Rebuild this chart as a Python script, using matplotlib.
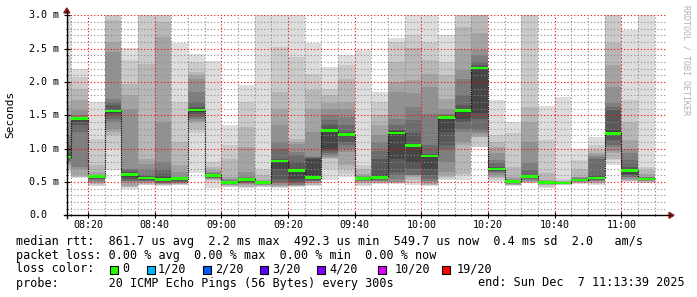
import matplotlib
matplotlib.use("Agg")
import matplotlib.pyplot as plt
from matplotlib.lines import Line2D
from matplotlib.patches import Rectangle, Polygon
import matplotlib.transforms as mtransforms
import numpy as np

# ---------------- data ----------------
window_start = "08:13:39"
window_end = "11:13:39"

bar_starts = ["08:10", "08:15", "08:20", "08:25", "08:30", "08:35", "08:40", "08:45",
              "08:50", "08:55", "09:00", "09:05", "09:10", "09:15", "09:20", "09:25",
              "09:30", "09:35", "09:40", "09:45", "09:50", "09:55", "10:00", "10:05",
              "10:10", "10:15", "10:20", "10:25", "10:30", "10:35", "10:40", "10:45",
              "10:50", "10:55", "11:00", "11:05"]

# median rtt per 5-minute step (ms)
median_rtt = [0.875, 1.455, 0.58, 1.565, 0.61, 0.56, 0.54, 0.55, 1.58, 0.60, 0.495, 0.54,
              0.49, 0.815, 0.67, 0.565, 1.275, 1.21, 0.55, 0.57, 1.235, 1.045, 0.89, 1.47,
              1.57, 2.21, 0.695, 0.505, 0.585, 0.495, 0.485, 0.53, 0.56, 1.23, 0.675, 0.545]

# the 20 sorted ping times (ms) of each step
pings = [
    [0.62, 0.66, 0.70, 0.74, 0.77, 0.80, 0.82, 0.84, 0.855, 0.865, 0.885, 0.90, 0.95, 1.05, 1.20, 1.40, 1.65, 2.00, 2.40, 3.05],
    [0.56, 0.57, 0.58, 0.60, 0.70, 0.72, 1.25, 1.35, 1.40, 1.43, 1.46, 1.465, 1.47, 1.48, 1.50, 1.575, 1.725, 1.89, 2.075, 2.19],
    [0.44, 0.45, 0.47, 0.49, 0.50, 0.52, 0.54, 0.55, 0.56, 0.575, 0.581, 0.582, 0.583, 0.585, 0.59, 0.60, 0.65, 0.75, 1.15, 1.70],
    [0.675, 1.00, 1.20, 1.25, 1.30, 1.40, 1.45, 1.50, 1.53, 1.55, 1.57, 1.58, 1.65, 1.70, 1.75, 2.45, 2.60, 2.925, 3.0, 3.05],
    [0.40, 0.425, 0.43, 0.44, 0.50, 0.51, 0.52, 0.55, 0.57, 0.605, 0.615, 0.63, 0.65, 0.69, 0.70, 1.60, 1.80, 1.975, 2.325, 2.51],
    [0.45, 0.46, 0.47, 0.48, 0.50, 0.51, 0.52, 0.53, 0.545, 0.555, 0.57, 0.58, 0.59, 0.60, 0.70, 0.775, 0.85, 2.275, 3.0, 3.05],
    [0.44, 0.45, 0.46, 0.47, 0.475, 0.48, 0.49, 0.50, 0.52, 0.535, 0.55, 0.58, 0.62, 0.70, 0.80, 1.40, 2.675, 2.90, 3.0, 3.05],
    [0.45, 0.46, 0.47, 0.475, 0.48, 0.49, 0.50, 0.52, 0.535, 0.545, 0.552, 0.555, 0.56, 0.565, 0.575, 0.65, 0.75, 1.10, 1.70, 2.59],
    [0.63, 1.23, 1.30, 1.40, 1.42, 1.45, 1.48, 1.52, 1.55, 1.57, 1.59, 1.60, 1.62, 1.70, 1.85, 2.05, 2.10, 2.15, 2.30, 2.425],
    [0.41, 0.52, 0.53, 0.54, 0.55, 0.555, 0.56, 0.57, 0.58, 0.595, 0.60, 0.605, 0.61, 0.62, 0.63, 0.65, 0.68, 0.725, 0.80, 2.31],
    [0.42, 0.43, 0.44, 0.45, 0.46, 0.47, 0.475, 0.48, 0.485, 0.49, 0.50, 0.505, 0.51, 0.515, 0.525, 0.55, 0.575, 0.85, 1.05, 1.35],
    [0.41, 0.42, 0.43, 0.45, 0.475, 0.48, 0.49, 0.50, 0.515, 0.535, 0.545, 0.55, 0.555, 0.565, 0.575, 0.65, 1.025, 1.325, 1.70, 1.96],
    [0.425, 0.43, 0.44, 0.45, 0.46, 0.465, 0.47, 0.475, 0.48, 0.487, 0.492, 0.495, 0.50, 0.505, 0.51, 0.52, 0.525, 0.60, 0.70, 3.05],
    [0.41, 0.42, 0.43, 0.44, 0.46, 0.48, 0.50, 0.55, 0.70, 0.815, 0.825, 0.83, 0.85, 1.00, 1.10, 1.35, 1.60, 1.85, 2.525, 3.05],
    [0.43, 0.435, 0.44, 0.445, 0.45, 0.46, 0.48, 0.50, 0.55, 0.66, 0.68, 0.70, 0.80, 0.90, 0.95, 1.075, 1.10, 1.15, 2.375, 3.05],
    [0.44, 0.45, 0.46, 0.48, 0.50, 0.51, 0.52, 0.53, 0.54, 0.56, 0.57, 0.85, 0.86, 0.87, 0.88, 1.25, 1.60, 1.875, 2.125, 2.59],
    [0.525, 0.70, 0.85, 0.86, 0.88, 0.91, 0.94, 0.97, 1.00, 1.25, 1.28, 1.30, 1.35, 1.43, 1.50, 1.60, 1.68, 1.80, 1.89, 2.22],
    [0.575, 0.625, 0.70, 0.75, 0.95, 1.00, 1.05, 1.10, 1.19, 1.205, 1.215, 1.22, 1.25, 1.36, 1.475, 1.59, 1.70, 2.05, 2.25, 2.40],
    [0.44, 0.46, 0.48, 0.50, 0.51, 0.52, 0.525, 0.53, 0.54, 0.545, 0.555, 0.56, 0.565, 0.57, 0.575, 0.59, 0.625, 0.70, 0.75, 2.475],
    [0.475, 0.48, 0.49, 0.50, 0.51, 0.52, 0.53, 0.54, 0.55, 0.565, 0.58, 0.60, 0.85, 0.97, 1.10, 1.20, 1.35, 1.50, 1.70, 1.85],
    [0.475, 0.48, 0.49, 0.50, 0.50, 0.55, 0.60, 0.65, 0.85, 1.23, 1.25, 1.26, 1.275, 1.36, 1.45, 1.85, 2.00, 2.30, 2.60, 2.66],
    [0.455, 0.48, 0.53, 0.58, 0.60, 0.605, 0.61, 0.70, 0.78, 1.04, 1.05, 1.055, 1.23, 1.43, 1.63, 1.83, 2.03, 2.505, 2.705, 3.05],
    [0.44, 0.45, 0.46, 0.475, 0.50, 0.52, 0.55, 0.60, 0.70, 0.88, 0.90, 0.91, 0.925, 1.05, 1.525, 1.925, 2.125, 2.325, 2.60, 3.05],
    [0.525, 0.55, 0.575, 0.60, 0.65, 0.80, 0.99, 1.05, 1.25, 1.46, 1.475, 1.48, 1.49, 1.50, 1.52, 1.60, 1.75, 2.10, 2.30, 2.70],
    [0.525, 0.60, 0.62, 1.05, 1.10, 1.25, 1.30, 1.40, 1.45, 1.565, 1.575, 1.60, 1.65, 1.80, 2.05, 2.175, 2.50, 2.825, 3.0, 3.05],
    [1.02, 1.03, 1.17, 1.18, 1.22, 1.25, 1.28, 1.45, 1.53, 2.20, 2.215, 2.22, 2.25, 2.30, 2.40, 2.48, 2.73, 3.0, 3.02, 3.05],
    [0.505, 0.53, 0.555, 0.58, 0.60, 0.63, 0.65, 0.67, 0.68, 0.69, 0.70, 0.71, 0.73, 0.78, 0.83, 0.93, 1.03, 1.10, 1.205, 1.73],
    [0.44, 0.45, 0.455, 0.46, 0.47, 0.48, 0.485, 0.49, 0.495, 0.50, 0.508, 0.51, 0.515, 0.52, 0.53, 0.55, 0.58, 0.73, 1.23, 1.40],
    [0.48, 0.49, 0.50, 0.505, 0.52, 0.53, 0.545, 0.555, 0.57, 0.58, 0.59, 0.595, 0.605, 0.68, 0.78, 1.105, 1.40, 1.63, 3.02, 3.05],
    [0.405, 0.43, 0.45, 0.46, 0.47, 0.475, 0.48, 0.485, 0.488, 0.492, 0.498, 0.50, 0.505, 0.51, 0.515, 0.52, 0.53, 0.63, 1.13, 1.64],
    [0.455, 0.46, 0.465, 0.468, 0.47, 0.475, 0.478, 0.48, 0.482, 0.484, 0.486, 0.488, 0.49, 0.492, 0.495, 0.50, 0.51, 0.52, 0.55, 1.78],
    [0.465, 0.48, 0.49, 0.50, 0.505, 0.51, 0.515, 0.52, 0.525, 0.528, 0.532, 0.535, 0.54, 0.545, 0.555, 0.57, 0.58, 0.70, 0.83, 0.99],
    [0.455, 0.47, 0.49, 0.50, 0.51, 0.52, 0.53, 0.54, 0.55, 0.558, 0.562, 0.57, 0.60, 0.85, 0.87, 0.90, 0.93, 0.98, 1.05, 1.18],
    [0.755, 0.83, 0.85, 0.93, 0.96, 1.03, 1.06, 1.13, 1.205, 1.22, 1.24, 1.28, 1.58, 1.63, 1.68, 1.93, 2.25, 2.58, 3.02, 3.05],
    [0.505, 0.51, 0.52, 0.53, 0.55, 0.57, 0.58, 0.60, 0.62, 0.665, 0.68, 0.70, 0.73, 0.83, 0.93, 1.00, 1.13, 1.405, 1.73, 2.785],
    [0.48, 0.49, 0.50, 0.51, 0.52, 0.525, 0.53, 0.535, 0.54, 0.542, 0.548, 0.55, 0.555, 0.56, 0.57, 0.58, 0.62, 0.68, 0.73, 3.05],
]

x_tick_labels = ["08:20", "08:40", "09:00", "09:20", "09:40", "10:00", "10:20", "10:40", "11:00"]
y_tick_values = [0.0, 0.5, 1.0, 1.5, 2.0, 2.5, 3.0]
y_tick_labels = ["0.0", "0.5 m", "1.0 m", "1.5 m", "2.0 m", "2.5 m", "3.0 m"]

loss_labels = ["0", "1/20", "2/20", "3/20", "4/20", "10/20", "19/20"]
loss_colors = ["#26ff00", "#00b8ff", "#0059ff", "#5e00ff", "#7e00ff", "#dd00ff", "#ff0000"]

legend_line1 = "median rtt:  861.7 us avg  2.2 ms max  492.3 us min  549.7 us now  0.4 ms sd  2.0   am/s"
legend_line2 = "packet loss: 0.00 % avg  0.00 % max  0.00 % min  0.00 % now"
probe_text = "probe:       20 ICMP Echo Pings (56 Bytes) every 300s"
end_text = "end: Sun Dec  7 11:13:39 2025"
step_minutes = 5

# ---------------- helpers ----------------
def to_min(s):
    parts = [int(p) for p in s.split(":")]
    while len(parts) < 3:
        parts.append(0)
    return parts[0] * 60 + parts[1] + parts[2] / 60.0

W, H = 697, 297
MONO = "DejaVu Sans Mono"

fig = plt.figure(figsize=(W / 100, H / 100), dpi=100)
fig.patch.set_facecolor("white")

X0, X1, YB, YT = 66.8, 666.8, 215.3, 15.3
ax = fig.add_axes([X0 / W, 1 - YB / H, (X1 - X0) / W, (YB - YT) / H])
ax.set_facecolor("white")

starts = np.array([to_min(s) for s in bar_starts])
P = np.array(pings)
med = np.array(median_rtt)

ax.set_xlim(to_min(window_start), to_min(window_end))
ax.set_ylim(0, 3.0)

# smoke: 10 nested bands, outer light -> inner dark
half = P.shape[1] // 2
for i in range(half):
    g = int(190 / half * (half - (i + 1))) + 50
    col = "#%02x%02x%02x" % (g, g, g)
    ax.bar(starts, P[:, -(i + 1)] - P[:, i], bottom=P[:, i], width=step_minutes,
           align="edge", color=col, linewidth=0, zorder=1)

# median step line (dotted black) and green median marker
xs = np.append(starts, starts[-1] + step_minutes)
ys = np.append(med, med[-1])
ax.step(xs, ys, where="post", color="black", lw=0.8, linestyle=(0, (1, 1)), zorder=2.8)
ax.bar(starts, 0.04, bottom=med - 0.02, width=step_minutes, align="edge",
       color=loss_colors[0], linewidth=0, zorder=3)

# ticks / grid
maj_x = [to_min(t) for t in x_tick_labels]
ax.set_xticks(maj_x)
ax.set_xticks(np.arange(to_min("08:15"), to_min("11:15"), step_minutes), minor=True)
ax.set_yticks(y_tick_values)
ax.set_yticks(np.arange(0, 3.01, 0.1), minor=True)
ax.tick_params(which="major", direction="inout", length=4, width=0.8, color="black",
               labelbottom=False, labelleft=False)
ax.tick_params(which="minor", direction="inout", length=2, width=0.6, color="black")
ax.set_axisbelow(False)
ax.grid(which="minor", color=(0.55, 0.55, 0.55, 0.32), linestyle=(0, (1, 2)), lw=0.8)
ax.grid(which="major", color=(1.0, 0.0, 0.0, 0.28), linestyle=(0, (1, 2)), lw=0.8)
for s in ax.spines.values():
    s.set_visible(False)

# tick labels
tr_x = mtransforms.blended_transform_factory(ax.transData, ax.transAxes)
for v, lab in zip(maj_x, x_tick_labels):
    ax.text(v, -(224.5 - YB) / (YB - YT), lab, transform=tr_x, ha="center", va="center",
            family=MONO, fontsize=7.2, clip_on=False)
tr_y = mtransforms.blended_transform_factory(ax.transAxes, ax.transData)
for v, lab in zip(y_tick_values, y_tick_labels):
    ax.text((29 - X0) / (X1 - X0), v, lab, transform=tr_y, ha="left", va="center",
            family=MONO, fontsize=7.2, clip_on=False)

# axis lines and arrows (figure pixels)
def fx(x):
    return x / W

def fy(y):
    return 1 - y / H

fig.add_artist(Line2D([fx(64), fx(670)], [fy(YB), fy(YB)], color="black", lw=1.0))
fig.add_artist(Line2D([fx(X0), fx(X0)], [fy(218), fy(11)], color="black", lw=1.0))
fig.add_artist(Polygon([[fx(669), fy(212.3)], [fx(669), fy(218.3)], [fx(674), fy(YB)]],
                       closed=True, color="#8b1a1a", transform=fig.transFigure))
fig.add_artist(Polygon([[fx(63.8), fy(13)], [fx(69.8), fy(13)], [fx(X0), fy(8)]],
                       closed=True, color="#8b1a1a", transform=fig.transFigure))

# labels
fig.text(fx(10.5), fy(114), "Seconds", rotation=90, ha="center", va="center",
         family=MONO, fontsize=8)
fig.text(fx(686), fy(5), "RRDTOOL / TOBI OETIKER", rotation=270, ha="center", va="top",
         family=MONO, fontsize=6, color="#b0b0b0")

# legend
FS = 8.5
fig.text(fx(16), fy(241), legend_line1, ha="left", va="center", family=MONO, fontsize=FS)
fig.text(fx(16), fy(255), legend_line2, ha="left", va="center", family=MONO, fontsize=FS)
fig.text(fx(16), fy(269), "loss color:", ha="left", va="center", family=MONO, fontsize=FS)
box_x = [109.5, 146.5, 203, 259.5, 316.5, 377.5, 441.5]
lab_x = [122, 158, 215, 272, 329, 395, 457]
for bx, lx, lab, col in zip(box_x, lab_x, loss_labels, loss_colors):
    fig.add_artist(Rectangle((fx(bx), fy(273.5)), 8 / W, 8 / H, facecolor=col,
                             edgecolor="black", lw=0.8, transform=fig.transFigure))
    fig.text(fx(lx), fy(269), lab, ha="left", va="center", family=MONO, fontsize=FS)
fig.text(fx(16), fy(283), probe_text, ha="left", va="center", family=MONO, fontsize=FS)
fig.text(fx(478), fy(283), end_text, ha="left", va="center", family=MONO, fontsize=FS)

fig.savefig("out.png", dpi=100, facecolor="white")
